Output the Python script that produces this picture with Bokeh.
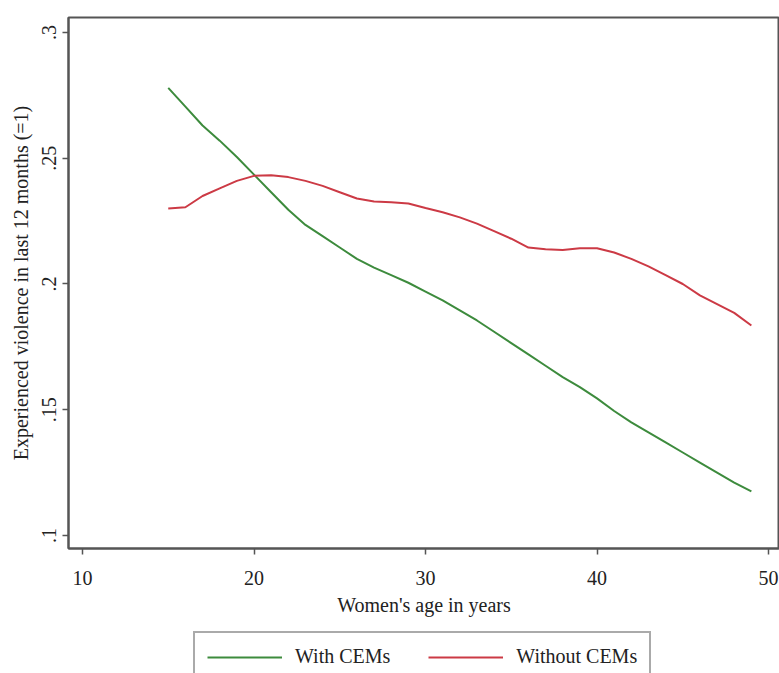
from bokeh.plotting import figure
from bokeh.models import FixedTicker, Legend, LegendItem, Range1d
from bokeh.layouts import column
from bokeh.embed import file_html
from bokeh.resources import INLINE

# ---- data ----
ages = [15, 16, 17, 18, 19, 20, 21, 22, 23, 24, 25, 26, 27, 28, 29, 30, 31, 32,
        33, 34, 35, 36, 37, 38, 39, 40, 41, 42, 43, 44, 45, 46, 47, 48, 49]
with_cems = [0.278, 0.2705, 0.263, 0.257, 0.2505, 0.2435, 0.2365, 0.2295, 0.2235,
             0.219, 0.2145, 0.210, 0.2065, 0.2035, 0.2005, 0.197, 0.1935, 0.1895,
             0.1855, 0.181, 0.1765, 0.172, 0.1675, 0.163, 0.159, 0.1545, 0.1495,
             0.145, 0.141, 0.137, 0.133, 0.129, 0.125, 0.121, 0.1175]
without_cems = [0.230, 0.2305, 0.235, 0.238, 0.241, 0.243, 0.2432, 0.2425, 0.241,
                0.239, 0.2365, 0.234, 0.2328, 0.2325, 0.232, 0.2302, 0.2285, 0.2265,
                0.224, 0.221, 0.218, 0.2145, 0.2138, 0.2135, 0.2142, 0.2142, 0.2125,
                0.210, 0.207, 0.2035, 0.200, 0.1955, 0.192, 0.1885, 0.1835]
x_ticks = [10, 20, 30, 40, 50]
y_ticks = [0.1, 0.15, 0.2, 0.25, 0.3]
y_tick_labels = [".1", ".15", ".2", ".25", ".3"]
series_names = ["With CEMs", "Without CEMs"]
series_colors = ["#3d8b3d", "#cc3a45"]
x_title = "Women's age in years"
y_title = "Experienced violence in last 12 months (=1)"

FONT = "Liberation Serif"
AXIS_COLOR = "#555555"
TEXT_COLOR = "#222222"

p = figure(width=779, height=625, output_backend="svg", toolbar_location=None,
           x_range=Range1d(9.184, 50.64), y_range=Range1d(0.09483, 0.30596))
p.min_border_left = 68
p.min_border_top = 17
p.min_border_right = 0
p.min_border_bottom = 77
p.background_fill_color = "white"
p.border_fill_color = "white"
p.outline_line_color = AXIS_COLOR
p.outline_line_width = 2
p.xgrid.visible = False
p.ygrid.visible = False

p.line(ages, with_cems, line_color=series_colors[0], line_width=2)
p.line(ages, without_cems, line_color=series_colors[1], line_width=2)

for ax in (p.xaxis[0], p.yaxis[0]):
    ax.axis_line_color = AXIS_COLOR
    ax.axis_line_width = 2
    ax.major_tick_line_color = AXIS_COLOR
    ax.major_tick_line_width = 1.5
    ax.major_tick_out = 6
    ax.major_tick_in = 0
    ax.minor_tick_line_color = None
    ax.major_label_text_font = FONT
    ax.major_label_text_font_size = "20px"
    ax.major_label_text_color = TEXT_COLOR
    ax.axis_label_text_font = FONT
    ax.axis_label_text_font_size = "20px"
    ax.axis_label_text_font_style = "normal"
    ax.axis_label_text_color = TEXT_COLOR

p.xaxis.ticker = FixedTicker(ticks=x_ticks)
p.xaxis.axis_label = x_title
p.xaxis.major_label_standoff = 16
p.xaxis.axis_label_standoff = 6

p.yaxis.ticker = FixedTicker(ticks=y_ticks)
p.yaxis.major_label_overrides = {v: s for v, s in zip(y_ticks, y_tick_labels)}
p.yaxis.major_label_orientation = "parallel"
p.yaxis.axis_label = y_title
p.yaxis.major_label_standoff = 6
p.yaxis.axis_label_standoff = 8

# ---- legend strip below the plot (its lines lie outside its own view) ----
lg = figure(width=779, height=48, output_backend="svg", toolbar_location=None,
            x_range=Range1d(0, 1), y_range=Range1d(0, 1),
            x_axis_location=None, y_axis_location=None)
lg.min_border_left = 0
lg.min_border_right = 0
lg.min_border_top = 0
lg.min_border_bottom = 0
lg.xgrid.visible = False
lg.ygrid.visible = False
lg.outline_line_color = None
lg.background_fill_color = "white"
lg.border_fill_color = "white"
k1 = lg.line(ages, with_cems, line_color=series_colors[0], line_width=2)
k2 = lg.line(ages, without_cems, line_color=series_colors[1], line_width=2)

legend = Legend(items=[LegendItem(label=series_names[0], renderers=[k1]),
                       LegendItem(label=series_names[1], renderers=[k2])],
                orientation="horizontal", location=(125, -9))
legend.label_text_font = FONT
legend.label_text_font_size = "20px"
legend.label_text_color = TEXT_COLOR
legend.glyph_width = 75
legend.glyph_height = 20
legend.label_standoff = 13
legend.spacing = 38
legend.padding = 12
legend.margin = 0
legend.border_line_color = AXIS_COLOR
legend.border_line_width = 2
legend.background_fill_color = "white"
lg.add_layout(legend, "center")

layout = column(p, lg, spacing=0)
open("out.html", "w").write(file_html(layout, INLINE))
